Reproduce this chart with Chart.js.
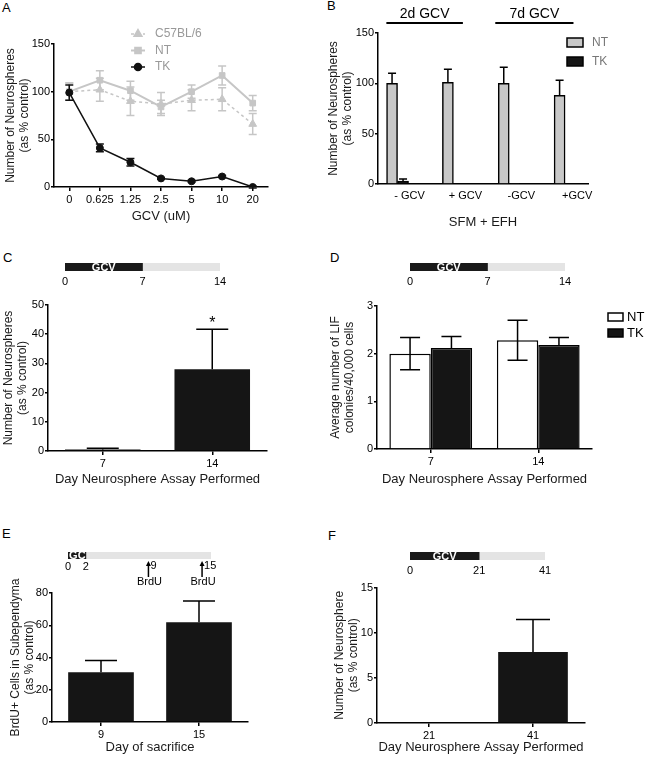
<!DOCTYPE html>
<html>
<head>
<meta charset="utf-8">
<script src="https://cdn.jsdelivr.net/npm/chart.js@4.4.1/dist/chart.umd.min.js"></script>
<style>
  html, body { margin: 0; padding: 0; background: #fff; }
  #fig { position: relative; width: 649px; height: 757px; overflow: hidden; font-family: "Liberation Sans", Arial, sans-serif; }
  #fig canvas { position: absolute; }
  .tag { position: absolute; font-size: 13px; line-height: 13px; color: #000; }
</style>
</head>
<body>
<div id="fig">
  <div class="tag" style="left:2px;top:1px">A</div>
  <div class="tag" style="left:327px;top:-1px">B</div>
  <div class="tag" style="left:3px;top:251px">C</div>
  <div class="tag" style="left:330px;top:251px">D</div>
  <div class="tag" style="left:2px;top:527px">E</div>
  <div class="tag" style="left:328px;top:529px">F</div>
  <canvas id="chA"></canvas>
  <canvas id="chB"></canvas>
  <canvas id="tlC"></canvas>
  <canvas id="chC"></canvas>
  <canvas id="tlD"></canvas>
  <canvas id="chD"></canvas>
  <canvas id="tlE"></canvas>
  <canvas id="chE"></canvas>
  <canvas id="tlF"></canvas>
  <canvas id="chF"></canvas>
</div>
<script>
// ---------- data ----------
// A: dose response
const doseLabels = ["0", "0.625", "1.25", "2.5", "5", "10", "20"];
const c57Vals = [100, 102, 90, 87, 91, 92, 66];
const c57Err  = [9, 12, 15, 12, 11, 12, 11];
const ntDoseVals = [100, 112, 101, 84, 100, 117, 88];
const ntDoseErr  = [9, 10, 10, 7, 7, 10, 8];
const tkDoseVals = [99, 41, 26, 9, 6, 11, 0];
const tkDoseErr  = [8, 4, 4, 1, 1, 1, 1];

// B: SFM + EFH
const bGroups = ["- GCV", "+ GCV", "-GCV", "+GCV"];
const bSpans = [
  { text: "2d GCV", from: -0.2, to: 1.17 },
  { text: "7d GCV", from: 1.75, to: 3.15 }
];
const bNT = [100, 101, 100, 88];
const bNTErr = [10, 13, 16, 15];
const bTK = [3, 0, 0.5, 0];
const bTKErr = [2, 0, 0, 0];

// C
const cDays = ["7", "14"];
const cVals = [0.5, 28];
const cErr = [0.4, 13.7];
const cSig = ["", "*"];
const cTimeline = [0, 7, 14];

// D
const dDays = ["7", "14"];
const dNT = [2.0, 2.28];
const dNTErr = [0.34, 0.42];
const dTK = [2.12, 2.18];
const dTKErr = [0.24, 0.16];
const dTimeline = [0, 7, 14];

// E
const eDays = ["9", "15"];
const eVals = [30.8, 61.8];
const eErr = [7.4, 13.2];
const eTimeline = [0, 2, 16];
const eTimelineTicks = [0, 2];
const eBrduDays = [9, 15];

// F
const fDays = ["21", "41"];
const fVals = [0, 7.86];
const fErr = [0, 3.6];
const fTimeline = [0, 21, 41];

const yTitleNeuro = ["Number of Neurospheres", "(as % control)"];
const FONT = '"Liberation Sans", Arial, sans-serif';

Chart.defaults.font.family = FONT;
Chart.defaults.color = "#000";
Chart.defaults.animation = false;
Chart.defaults.plugins.legend.display = false;
Chart.defaults.plugins.tooltip.enabled = false;

// ---------- layout helpers ----------
function setBox(id, box) {
  const cv = document.getElementById(id);
  cv.width = box.w; cv.height = box.h;
  cv.style.left = box.x + "px"; cv.style.top = box.y + "px";
  cv.style.width = box.w + "px"; cv.style.height = box.h + "px";
  return cv;
}

function frame(box, area) {
  return {
    padding: { left: 0, top: area.t - box.y, right: box.x + box.w - area.r, bottom: 0 },
    yW: area.l - box.x,
    xH: box.y + box.h - area.b
  };
}

function valueAxis(f, max, step, title, titlePad) {
  return {
    min: 0, max: max,
    afterFit: s => { s.width = f.yW; },
    ticks: { stepSize: step, font: { size: 11 }, color: "#000", padding: 1 },
    grid: { drawOnChartArea: false, tickLength: 3, color: "#000", lineWidth: 1.5 },
    border: { color: "#000", width: 1.5 },
    title: { display: true, text: title, color: "#1a1a1a", font: { size: 12, lineHeight: 1.2 }, padding: { top: titlePad, bottom: 0 } }
  };
}

function catAxis(f, title) {
  return {
    type: "category", offset: true,
    afterFit: s => { s.height = f.xH; },
    ticks: { font: { size: 11 }, color: "#000", padding: 2, maxRotation: 0, autoSkip: false },
    grid: { offset: false, drawOnChartArea: false, tickLength: 4, color: "#000", lineWidth: 1.5 },
    border: { color: "#000", width: 1.5 },
    title: { display: true, text: title, color: "#1a1a1a", font: { size: 13, lineHeight: 1.2 }, padding: { top: 0, bottom: 2 } }
  };
}

// ---------- plugins ----------
const errorBars = {
  id: "errorBars",
  afterDatasetDraw(chart, args) {
    const ds = chart.data.datasets[args.index];
    if (!ds.errors) return;
    const ctx = chart.ctx, ys = chart.scales.y, meta = args.meta;
    meta.data.forEach((el, i) => {
      const e = ds.errors[i];
      const v = meta.controller.getParsed(i).y;
      const x = el.x, cap = ds.errCap || 4;
      let yTop = ys.getPixelForValue(v);
      if (e) {
        yTop = ys.getPixelForValue(v + e);
        const yBot = ys.getPixelForValue(ds.errBoth ? v - e : v);
        ctx.save();
        ctx.strokeStyle = ds.errColor || "#000";
        ctx.lineWidth = 1.5;
        ctx.beginPath();
        ctx.moveTo(x, yTop); ctx.lineTo(x, yBot);
        ctx.moveTo(x - cap, yTop); ctx.lineTo(x + cap, yTop);
        if (ds.errBoth) { ctx.moveTo(x - cap, yBot); ctx.lineTo(x + cap, yBot); }
        ctx.stroke();
        ctx.restore();
      }
      if (ds.sig && ds.sig[i]) {
        ctx.save();
        ctx.fillStyle = "#000";
        ctx.font = "16px " + FONT;
        ctx.textAlign = "center"; ctx.textBaseline = "alphabetic";
        ctx.fillText(ds.sig[i], x, yTop - 1);
        ctx.restore();
      }
    });
  }
};

const lineLegend = {
  id: "lineLegend",
  afterDraw(chart, args, opts) {
    const ctx = chart.ctx, ca = chart.chartArea;
    chart.data.datasets.forEach((ds, i) => {
      const y = ca.top + opts.y + i * opts.dy, x0 = ca.left + opts.x;
      ctx.save();
      ctx.strokeStyle = ds.borderColor; ctx.lineWidth = ds.borderWidth;
      ctx.setLineDash(ds.borderDash || []);
      ctx.beginPath(); ctx.moveTo(x0 - 7, y); ctx.lineTo(x0 + 7, y); ctx.stroke();
      ctx.setLineDash([]);
      ctx.fillStyle = ds.backgroundColor;
      Chart.helpers.drawPoint(ctx, { pointStyle: ds.pointStyle, radius: ds.pointRadius, borderWidth: 1, rotation: 0 }, x0, y);
      ctx.fillStyle = opts.color;
      ctx.font = "12px " + FONT;
      ctx.textAlign = "left"; ctx.textBaseline = "middle";
      ctx.fillText(ds.label, x0 + 17, y);
      ctx.restore();
    });
  }
};

const boxLegend = {
  id: "boxLegend",
  afterDraw(chart, args, opts) {
    const ctx = chart.ctx, ca = chart.chartArea;
    chart.data.datasets.forEach((ds, i) => {
      const x = ca.right + opts.x, y = ca.top + opts.y + i * opts.dy;
      ctx.save();
      ctx.fillStyle = ds.backgroundColor;
      ctx.fillRect(x, y, opts.w, opts.h);
      ctx.strokeStyle = "#000"; ctx.lineWidth = 1.5;
      ctx.strokeRect(x, y, opts.w, opts.h);
      ctx.fillStyle = opts.color;
      ctx.font = opts.size + "px " + FONT;
      ctx.textAlign = "left"; ctx.textBaseline = "middle";
      ctx.fillText(ds.label, x + opts.w + opts.gap, y + opts.h / 2 + 0.5);
      ctx.restore();
    });
  }
};

const spanHeaders = {
  id: "spanHeaders",
  afterDraw(chart) {
    const xs = chart.scales.x, top = chart.chartArea.top, ctx = chart.ctx;
    ctx.save();
    ctx.fillStyle = "#000"; ctx.strokeStyle = "#000"; ctx.lineWidth = 2;
    ctx.font = "14px " + FONT;
    ctx.textAlign = "center"; ctx.textBaseline = "middle";
    bSpans.forEach(s => {
      const a = xs.getPixelForValue(s.from), b = xs.getPixelForValue(s.to);
      ctx.fillText(s.text, (a + b) / 2, top - 19);
      ctx.beginPath(); ctx.moveTo(a, top - 10); ctx.lineTo(b, top - 10); ctx.stroke();
    });
    ctx.restore();
  }
};

// "GCV" written inside the treatment segment, clipped to it
const gcvLabel = {
  id: "gcvLabel",
  afterDatasetsDraw(chart) {
    const el = chart.getDatasetMeta(0).data[0];
    const ctx = chart.ctx;
    const x0 = Math.min(el.x, el.base), w = Math.abs(el.x - el.base);
    ctx.save();
    ctx.beginPath(); ctx.rect(x0, el.y - 6, w, 12); ctx.clip();
    ctx.fillStyle = "#fff";
    ctx.font = "bold 11px " + FONT;
    ctx.textAlign = "center"; ctx.textBaseline = "middle";
    ctx.fillText("GCV", x0 + Math.max(w, 26) / 2, el.y + 0.5);
    ctx.restore();
  }
};

const brduMarks = {
  id: "brduMarks",
  afterDraw(chart) {
    const xs = chart.scales.x, ctx = chart.ctx, b = chart.chartArea.bottom;
    ctx.save();
    ctx.strokeStyle = "#000"; ctx.fillStyle = "#000"; ctx.lineWidth = 1.5;
    ctx.font = "11px " + FONT;
    eBrduDays.forEach(d => {
      const px = xs.getPixelForValue(d);
      ctx.beginPath(); ctx.moveTo(px, b + 18); ctx.lineTo(px, b + 5); ctx.stroke();
      ctx.beginPath(); ctx.moveTo(px - 2.5, b + 7); ctx.lineTo(px, b + 2); ctx.lineTo(px + 2.5, b + 7); ctx.closePath(); ctx.fill();
      ctx.textAlign = "left"; ctx.textBaseline = "middle";
      ctx.fillText(String(d), px + 2, b + 7);
      ctx.textAlign = "center";
      ctx.fillText("BrdU", px + 1, b + 23);
    });
    ctx.restore();
  }
};

// ---------- timeline bars ----------
function timeline(id, box, area, bounds, ticks, thick, tickPad, extra) {
  const segs = [];
  for (let i = 0; i < bounds.length - 1; i++) {
    segs.push({
      data: [[bounds[i], bounds[i + 1]]],
      backgroundColor: i === 0 ? "#1a1a1a" : "#e4e4e4",
      barThickness: thick, grouped: false
    });
  }
  return new Chart(setBox(id, box), {
    type: "bar",
    data: { labels: [""], datasets: segs },
    options: {
      indexAxis: "y", responsive: false,
      layout: { padding: { left: area.l - box.x, right: box.x + box.w - area.r, top: area.t - box.y, bottom: 0 } },
      scales: {
        x: {
          type: "linear", min: bounds[0], max: bounds[bounds.length - 1],
          afterBuildTicks: s => { s.ticks = ticks.map(v => ({ value: v })); },
          afterFit: s => { s.height = box.y + box.h - area.b; },
          grid: { display: false, drawTicks: false },
          border: { display: false },
          ticks: { font: { size: 11 }, color: "#000", padding: tickPad, maxRotation: 0, autoSkip: false }
        },
        y: { display: false }
      }
    },
    plugins: [gcvLabel].concat(extra || [])
  });
}

// ---------- A ----------
const boxA = { x: 0, y: 20, w: 300, h: 206 };
const fA = frame(boxA, { l: 54, t: 44, r: 268, b: 187 });
new Chart(setBox("chA", boxA), {
  type: "line",
  data: {
    labels: doseLabels,
    datasets: [
      { label: "C57BL/6", data: c57Vals, errors: c57Err, errBoth: true, errColor: "#c6c6c6", errCap: 4,
        borderColor: "#c6c6c6", backgroundColor: "#c6c6c6", borderWidth: 1.5, borderDash: [3, 3],
        pointStyle: "triangle", pointRadius: 4.5, pointBorderWidth: 1, order: 2 },
      { label: "NT", data: ntDoseVals, errors: ntDoseErr, errBoth: true, errColor: "#c6c6c6", errCap: 4,
        borderColor: "#c6c6c6", backgroundColor: "#c6c6c6", borderWidth: 2,
        pointStyle: "rect", pointRadius: 4, pointBorderWidth: 1, order: 1 },
      { label: "TK", data: tkDoseVals, errors: tkDoseErr, errBoth: true, errColor: "#111", errCap: 4,
        borderColor: "#111", backgroundColor: "#111", borderWidth: 1.5,
        pointStyle: "circle", pointRadius: 3.5, pointBorderWidth: 1, order: 0 }
    ]
  },
  options: {
    responsive: false,
    layout: { padding: fA.padding },
    scales: { x: catAxis(fA, "GCV (uM)"), y: valueAxis(fA, 150, 50, yTitleNeuro, 3) },
    plugins: { lineLegend: { x: 84, y: -10, dy: 16.5, color: "#999" } }
  },
  plugins: [errorBars, lineLegend]
});

// ---------- B ----------
const boxB = { x: 325, y: 0, w: 324, h: 232 };
const fB = frame(boxB, { l: 378, t: 33, r: 588, b: 184 });
const xB = catAxis(fB, "SFM + EFH");
Object.assign(xB, {
  type: "linear", min: -0.35, max: 3.41, offset: false,
  afterBuildTicks: s => { s.ticks = bGroups.map((_, i) => ({ value: i })); }
});
xB.ticks = { callback: (v, i) => bGroups[i], labelOffset: 12, font: { size: 11 }, color: "#000", padding: 5, maxRotation: 0, autoSkip: false };
xB.grid = { offset: false, drawOnChartArea: false, drawTicks: false };
new Chart(setBox("chB", boxB), {
  type: "bar",
  data: {
    datasets: [
      { label: "NT", data: bNT.map((v, i) => ({ x: i, y: v })), errors: bNTErr, errCap: 4,
        backgroundColor: "#c8c8c8", borderColor: "#000", borderWidth: 1.5, barThickness: 11 },
      { label: "TK", data: bTK.map((v, i) => ({ x: i, y: v })), errors: bTKErr, errCap: 4,
        backgroundColor: "#151515", borderColor: "#000", borderWidth: 1.5, barThickness: 11 }
    ]
  },
  options: {
    responsive: false,
    layout: { padding: fB.padding },
    scales: { x: xB, y: valueAxis(fB, 150, 50, yTitleNeuro, 1) },
    plugins: { boxLegend: { x: -21, y: 5, dy: 19, w: 16, h: 9, gap: 9, size: 12, color: "#777" } }
  },
  plugins: [errorBars, boxLegend, spanHeaders]
});

// ---------- C ----------
timeline("tlC", { x: 50, y: 258, w: 190, h: 32 }, { l: 65, t: 263, r: 220, b: 271 }, cTimeline, cTimeline, 8, 4);
const boxC = { x: 0, y: 290, w: 325, h: 199 };
const fC = frame(boxC, { l: 48, t: 305, r: 267, b: 451 });
new Chart(setBox("chC", boxC), {
  type: "bar",
  data: {
    labels: cDays,
    datasets: [{ data: cVals, errors: cErr, errCap: 16, sig: cSig,
      backgroundColor: "#151515", barPercentage: 0.69, categoryPercentage: 1 }]
  },
  options: {
    responsive: false,
    layout: { padding: fC.padding },
    scales: { x: catAxis(fC, "Day Neurosphere Assay Performed"), y: valueAxis(fC, 50, 10, yTitleNeuro, 1) }
  },
  plugins: [errorBars]
});

// ---------- D ----------
timeline("tlD", { x: 395, y: 258, w: 190, h: 32 }, { l: 410, t: 263, r: 565, b: 271 }, dTimeline, dTimeline, 8, 4);
const boxD = { x: 325, y: 290, w: 324, h: 199 };
const fD = frame(boxD, { l: 377, t: 306, r: 592, b: 449 });
new Chart(setBox("chD", boxD), {
  type: "bar",
  data: {
    labels: dDays,
    datasets: [
      { label: "NT", data: dNT, errors: dNTErr, errBoth: true, errCap: 10,
        backgroundColor: "#fff", borderColor: "#000", borderWidth: 1.5, barPercentage: 1, categoryPercentage: 0.77 },
      { label: "TK", data: dTK, errors: dTKErr, errCap: 10,
        backgroundColor: "#151515", borderColor: "#000", borderWidth: 1.5, barPercentage: 1, categoryPercentage: 0.77 }
    ]
  },
  options: {
    responsive: false,
    layout: { padding: fD.padding },
    scales: {
      x: catAxis(fD, "Day Neurosphere Assay Performed"),
      y: valueAxis(fD, 3, 1, ["Average number of LIF", "colonies/40,000 cells"], 3)
    },
    plugins: { boxLegend: { x: 16, y: 7, dy: 16, w: 15, h: 8, gap: 4, size: 13, color: "#000" } }
  },
  plugins: [errorBars, boxLegend]
});

// ---------- E ----------
timeline("tlE", { x: 50, y: 545, w: 185, h: 45 }, { l: 68, t: 552, r: 211, b: 559 }, eTimeline, eTimelineTicks, 7, 1, [brduMarks]);
const boxE = { x: 0, y: 570, w: 325, h: 187 };
const fE = frame(boxE, { l: 52, t: 593, r: 248, b: 722 });
new Chart(setBox("chE", boxE), {
  type: "bar",
  data: {
    labels: eDays,
    datasets: [{ data: eVals, errors: eErr, errCap: 16,
      backgroundColor: "#151515", barPercentage: 0.67, categoryPercentage: 1 }]
  },
  options: {
    responsive: false,
    layout: { padding: fE.padding },
    scales: {
      x: catAxis(fE, "Day of sacrifice"),
      y: valueAxis(fE, 80, 20, ["BrdU+ Cells in Subependyma", "(as % control)"], 8)
    }
  },
  plugins: [errorBars]
});

// ---------- F ----------
timeline("tlF", { x: 395, y: 545, w: 170, h: 35 }, { l: 410, t: 552, r: 545, b: 560 }, fTimeline, fTimeline, 8, 4);
const boxF = { x: 325, y: 580, w: 324, h: 177 };
const fF = frame(boxF, { l: 377, t: 585, r: 585, b: 723 });
new Chart(setBox("chF", boxF), {
  type: "bar",
  data: {
    labels: fDays,
    datasets: [{ data: fVals, errors: fErr, errCap: 17,
      backgroundColor: "#151515", barPercentage: 0.67, categoryPercentage: 1 }]
  },
  options: {
    responsive: false,
    layout: { padding: fF.padding },
    scales: {
      x: catAxis(fF, "Day Neurosphere Assay Performed"),
      y: valueAxis(fF, 15, 5, ["Number of Neurosphere", "(as % control)"], 7)
    }
  },
  plugins: [errorBars]
});
</script>
</body>
</html>
